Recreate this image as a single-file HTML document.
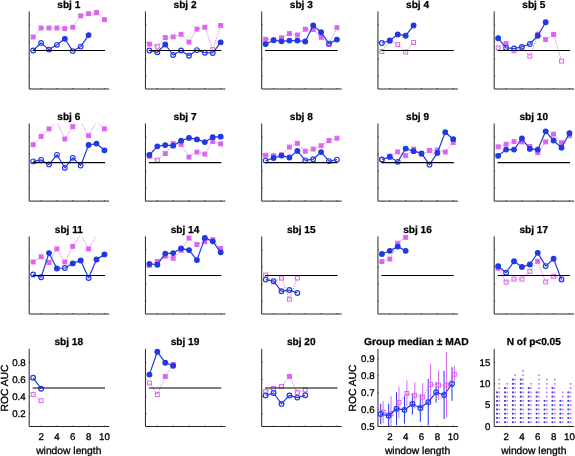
<!DOCTYPE html>
<html><head><meta charset="utf-8"><style>html,body{margin:0;padding:0;background:#fff;width:575px;height:456px;overflow:hidden}</style></head>
<body>
<svg width="575" height="456" viewBox="0 0 575 456" style="display:block;will-change:transform;text-rendering:geometricPrecision;font-family:'Liberation Sans',sans-serif">
<rect width="575" height="456" fill="#fff"/>
<defs>
<clipPath id="c0"><rect x="29.2" y="11.4" width="79.2" height="77.6"/></clipPath>
<clipPath id="c1"><rect x="145.45" y="11.4" width="79.2" height="77.6"/></clipPath>
<clipPath id="c2"><rect x="261.7" y="11.4" width="79.2" height="77.6"/></clipPath>
<clipPath id="c3"><rect x="377.95" y="11.4" width="79.2" height="77.6"/></clipPath>
<clipPath id="c4"><rect x="494.2" y="11.4" width="79.2" height="77.6"/></clipPath>
<clipPath id="c5"><rect x="29.2" y="123.5" width="79.2" height="77.6"/></clipPath>
<clipPath id="c6"><rect x="145.45" y="123.5" width="79.2" height="77.6"/></clipPath>
<clipPath id="c7"><rect x="261.7" y="123.5" width="79.2" height="77.6"/></clipPath>
<clipPath id="c8"><rect x="377.95" y="123.5" width="79.2" height="77.6"/></clipPath>
<clipPath id="c9"><rect x="494.2" y="123.5" width="79.2" height="77.6"/></clipPath>
<clipPath id="c10"><rect x="29.2" y="236.4" width="79.2" height="77.6"/></clipPath>
<clipPath id="c11"><rect x="145.45" y="236.4" width="79.2" height="77.6"/></clipPath>
<clipPath id="c12"><rect x="261.7" y="236.4" width="79.2" height="77.6"/></clipPath>
<clipPath id="c13"><rect x="377.95" y="236.4" width="79.2" height="77.6"/></clipPath>
<clipPath id="c14"><rect x="494.2" y="236.4" width="79.2" height="77.6"/></clipPath>
<clipPath id="c15"><rect x="29.2" y="348.9" width="79.2" height="77.6"/></clipPath>
<clipPath id="c16"><rect x="145.45" y="348.9" width="79.2" height="77.6"/></clipPath>
<clipPath id="c17"><rect x="261.7" y="348.9" width="79.2" height="77.6"/></clipPath>
<clipPath id="cg"><rect x="377.95" y="348.9" width="79.2" height="77.6"/></clipPath>
<clipPath id="cn"><rect x="494.2" y="348.9" width="79.2" height="77.6"/></clipPath>
</defs>
<path d="M29.2 11.4V89H109.2" fill="none" stroke="#262626" stroke-width="1"/>
<path d="M29.2 76.15h1M29.2 59.05h1M29.2 41.95h1M29.2 24.85h1M41.08 89v-1M56.92 89v-1M72.76 89v-1M88.6 89v-1M104.44 89v-1" fill="none" stroke="#262626" stroke-width="0.8"/>
<g clip-path="url(#c0)">
<path d="M33.16 37 L41.08 28 L49 28 L56.92 28 L64.84 28.6 L72.76 27.2 L80.68 15.9 L88.6 13.7 L96.52 12.5 L104.44 19.7" fill="none" stroke="#dc64f0" stroke-width="1.0" stroke-dasharray="1.1 1.3"/>
</g>
<rect x="31.21" y="35.05" width="3.9" height="3.9" fill="#dc64f0" stroke="#dc64f0" stroke-width="1.0"/>
<rect x="39.13" y="26.05" width="3.9" height="3.9" fill="#dc64f0" stroke="#dc64f0" stroke-width="1.0"/>
<rect x="47.05" y="26.05" width="3.9" height="3.9" fill="#dc64f0" stroke="#dc64f0" stroke-width="1.0"/>
<rect x="54.97" y="26.05" width="3.9" height="3.9" fill="#dc64f0" stroke="#dc64f0" stroke-width="1.0"/>
<rect x="62.89" y="26.65" width="3.9" height="3.9" fill="#dc64f0" stroke="#dc64f0" stroke-width="1.0"/>
<rect x="70.81" y="25.25" width="3.9" height="3.9" fill="#dc64f0" stroke="#dc64f0" stroke-width="1.0"/>
<rect x="78.73" y="13.95" width="3.9" height="3.9" fill="#dc64f0" stroke="#dc64f0" stroke-width="1.0"/>
<rect x="86.65" y="11.75" width="3.9" height="3.9" fill="#dc64f0" stroke="#dc64f0" stroke-width="1.0"/>
<rect x="94.57" y="10.55" width="3.9" height="3.9" fill="#dc64f0" stroke="#dc64f0" stroke-width="1.0"/>
<rect x="102.49" y="17.75" width="3.9" height="3.9" fill="#dc64f0" stroke="#dc64f0" stroke-width="1.0"/>
<g clip-path="url(#c0)">
<path d="M33.16 50.5 L41.08 42.9 L49 49.6 L56.92 44.8 L64.84 38.8 L72.76 51.1 L80.68 46.6 L88.6 35.1" fill="none" stroke="#2038e6" stroke-width="1.2" stroke-linejoin="round"/>
</g>
<circle cx="33.16" cy="50.5" r="2.35" fill="none" stroke="#2038e6" stroke-width="1.15"/>
<circle cx="41.08" cy="42.9" r="2.35" fill="none" stroke="#2038e6" stroke-width="1.15"/>
<circle cx="49" cy="49.6" r="2.35" fill="none" stroke="#2038e6" stroke-width="1.15"/>
<circle cx="56.92" cy="44.8" r="2.35" fill="none" stroke="#2038e6" stroke-width="1.15"/>
<circle cx="64.84" cy="38.8" r="2.35" fill="#2038e6" stroke="#2038e6" stroke-width="1.15"/>
<circle cx="72.76" cy="51.1" r="2.35" fill="none" stroke="#2038e6" stroke-width="1.15"/>
<circle cx="80.68" cy="46.6" r="2.35" fill="none" stroke="#2038e6" stroke-width="1.15"/>
<circle cx="88.6" cy="35.1" r="2.35" fill="#2038e6" stroke="#2038e6" stroke-width="1.15"/>
<path d="M33.16 50.5H104.44" stroke="#000" stroke-width="1.2" stroke-linecap="square"/>
<text x="68.8" y="7.6" font-size="10.1" text-anchor="middle" font-weight="bold" stroke="#000" stroke-width="0.25">sbj 1</text>
<path d="M145.45 11.4V89H225.45" fill="none" stroke="#262626" stroke-width="1"/>
<path d="M145.45 76.15h1M145.45 59.05h1M145.45 41.95h1M145.45 24.85h1M157.33 89v-1M173.17 89v-1M189.01 89v-1M204.85 89v-1M220.69 89v-1" fill="none" stroke="#262626" stroke-width="0.8"/>
<g clip-path="url(#c1)">
<path d="M149.41 44.1 L157.33 46.3 L165.25 37.6 L173.17 36.9 L181.09 34.3 L189.01 42.1 L196.93 29.1 L204.85 27.2 L212.77 49.6 L220.69 25.4" fill="none" stroke="#dc64f0" stroke-width="1.0" stroke-dasharray="1.1 1.3"/>
</g>
<rect x="147.46" y="42.15" width="3.9" height="3.9" fill="#dc64f0" stroke="#dc64f0" stroke-width="1.0"/>
<rect x="155.38" y="44.35" width="3.9" height="3.9" fill="none" stroke="#dc64f0" stroke-width="1.0"/>
<rect x="163.3" y="35.65" width="3.9" height="3.9" fill="#dc64f0" stroke="#dc64f0" stroke-width="1.0"/>
<rect x="171.22" y="34.95" width="3.9" height="3.9" fill="#dc64f0" stroke="#dc64f0" stroke-width="1.0"/>
<rect x="179.14" y="32.35" width="3.9" height="3.9" fill="#dc64f0" stroke="#dc64f0" stroke-width="1.0"/>
<rect x="187.06" y="40.15" width="3.9" height="3.9" fill="#dc64f0" stroke="#dc64f0" stroke-width="1.0"/>
<rect x="194.98" y="27.15" width="3.9" height="3.9" fill="#dc64f0" stroke="#dc64f0" stroke-width="1.0"/>
<rect x="202.9" y="25.25" width="3.9" height="3.9" fill="#dc64f0" stroke="#dc64f0" stroke-width="1.0"/>
<rect x="210.82" y="47.65" width="3.9" height="3.9" fill="none" stroke="#dc64f0" stroke-width="1.0"/>
<rect x="218.74" y="23.45" width="3.9" height="3.9" fill="#dc64f0" stroke="#dc64f0" stroke-width="1.0"/>
<g clip-path="url(#c1)">
<path d="M149.41 50.5 L157.33 52.3 L165.25 44.5 L173.17 55 L181.09 50.5 L189.01 55.7 L196.93 50.1 L204.85 52.7 L212.77 53 L220.69 42.3" fill="none" stroke="#2038e6" stroke-width="1.2" stroke-linejoin="round"/>
</g>
<circle cx="149.41" cy="50.5" r="2.35" fill="none" stroke="#2038e6" stroke-width="1.15"/>
<circle cx="157.33" cy="52.3" r="2.35" fill="none" stroke="#2038e6" stroke-width="1.15"/>
<circle cx="165.25" cy="44.5" r="2.35" fill="#2038e6" stroke="#2038e6" stroke-width="1.15"/>
<circle cx="173.17" cy="55" r="2.35" fill="none" stroke="#2038e6" stroke-width="1.15"/>
<circle cx="181.09" cy="50.5" r="2.35" fill="none" stroke="#2038e6" stroke-width="1.15"/>
<circle cx="189.01" cy="55.7" r="2.35" fill="none" stroke="#2038e6" stroke-width="1.15"/>
<circle cx="196.93" cy="50.1" r="2.35" fill="none" stroke="#2038e6" stroke-width="1.15"/>
<circle cx="204.85" cy="52.7" r="2.35" fill="none" stroke="#2038e6" stroke-width="1.15"/>
<circle cx="212.77" cy="53" r="2.35" fill="none" stroke="#2038e6" stroke-width="1.15"/>
<circle cx="220.69" cy="42.3" r="2.35" fill="#2038e6" stroke="#2038e6" stroke-width="1.15"/>
<path d="M149.41 50.5H220.69" stroke="#000" stroke-width="1.2" stroke-linecap="square"/>
<text x="185.05" y="7.6" font-size="10.1" text-anchor="middle" font-weight="bold" stroke="#000" stroke-width="0.25">sbj 2</text>
<path d="M261.7 11.4V89H341.7" fill="none" stroke="#262626" stroke-width="1"/>
<path d="M261.7 76.15h1M261.7 59.05h1M261.7 41.95h1M261.7 24.85h1M273.58 89v-1M289.42 89v-1M305.26 89v-1M321.1 89v-1M336.94 89v-1" fill="none" stroke="#262626" stroke-width="0.8"/>
<g clip-path="url(#c2)">
<path d="M265.66 39.2 L273.58 40 L281.5 37.8 L289.42 33.6 L297.34 35 L305.26 29.2 L313.18 29.6 L321.1 37.3 L329.02 44.5 L336.94 27.7" fill="none" stroke="#dc64f0" stroke-width="1.0" stroke-dasharray="1.1 1.3"/>
</g>
<rect x="263.71" y="37.25" width="3.9" height="3.9" fill="#dc64f0" stroke="#dc64f0" stroke-width="1.0"/>
<rect x="271.63" y="38.05" width="3.9" height="3.9" fill="#dc64f0" stroke="#dc64f0" stroke-width="1.0"/>
<rect x="279.55" y="35.85" width="3.9" height="3.9" fill="#dc64f0" stroke="#dc64f0" stroke-width="1.0"/>
<rect x="287.47" y="31.65" width="3.9" height="3.9" fill="#dc64f0" stroke="#dc64f0" stroke-width="1.0"/>
<rect x="295.39" y="33.05" width="3.9" height="3.9" fill="#dc64f0" stroke="#dc64f0" stroke-width="1.0"/>
<rect x="303.31" y="27.25" width="3.9" height="3.9" fill="#dc64f0" stroke="#dc64f0" stroke-width="1.0"/>
<rect x="311.23" y="27.65" width="3.9" height="3.9" fill="#dc64f0" stroke="#dc64f0" stroke-width="1.0"/>
<rect x="319.15" y="35.35" width="3.9" height="3.9" fill="#dc64f0" stroke="#dc64f0" stroke-width="1.0"/>
<rect x="327.07" y="42.55" width="3.9" height="3.9" fill="none" stroke="#dc64f0" stroke-width="1.0"/>
<rect x="334.99" y="25.75" width="3.9" height="3.9" fill="#dc64f0" stroke="#dc64f0" stroke-width="1.0"/>
<g clip-path="url(#c2)">
<path d="M265.66 44.05 L273.58 40.2 L281.5 41.3 L289.42 40.6 L297.34 40.6 L305.26 41.5 L313.18 25.4 L321.1 32.3 L329.02 43.6 L336.94 39.6" fill="none" stroke="#2038e6" stroke-width="1.2" stroke-linejoin="round"/>
</g>
<circle cx="265.66" cy="44.05" r="2.35" fill="#2038e6" stroke="#2038e6" stroke-width="1.15"/>
<circle cx="273.58" cy="40.2" r="2.35" fill="#2038e6" stroke="#2038e6" stroke-width="1.15"/>
<circle cx="281.5" cy="41.3" r="2.35" fill="#2038e6" stroke="#2038e6" stroke-width="1.15"/>
<circle cx="289.42" cy="40.6" r="2.35" fill="#2038e6" stroke="#2038e6" stroke-width="1.15"/>
<circle cx="297.34" cy="40.6" r="2.35" fill="#2038e6" stroke="#2038e6" stroke-width="1.15"/>
<circle cx="305.26" cy="41.5" r="2.35" fill="#2038e6" stroke="#2038e6" stroke-width="1.15"/>
<circle cx="313.18" cy="25.4" r="2.35" fill="#2038e6" stroke="#2038e6" stroke-width="1.15"/>
<circle cx="321.1" cy="32.3" r="2.35" fill="#2038e6" stroke="#2038e6" stroke-width="1.15"/>
<circle cx="329.02" cy="43.6" r="2.35" fill="none" stroke="#2038e6" stroke-width="1.15"/>
<circle cx="336.94" cy="39.6" r="2.35" fill="#2038e6" stroke="#2038e6" stroke-width="1.15"/>
<path d="M265.66 50.5H336.94" stroke="#000" stroke-width="1.2" stroke-linecap="square"/>
<text x="301.3" y="7.6" font-size="10.1" text-anchor="middle" font-weight="bold" stroke="#000" stroke-width="0.25">sbj 3</text>
<path d="M377.95 11.4V89H457.95" fill="none" stroke="#262626" stroke-width="1"/>
<path d="M377.95 76.15h1M377.95 59.05h1M377.95 41.95h1M377.95 24.85h1M389.83 89v-1M405.67 89v-1M421.51 89v-1M437.35 89v-1M453.19 89v-1" fill="none" stroke="#262626" stroke-width="0.8"/>
<g clip-path="url(#c3)">
<path d="M381.91 51.5 L389.83 41.1 L397.75 44.6 L405.67 52 L413.59 42.5" fill="none" stroke="#dc64f0" stroke-width="1.0" stroke-dasharray="1.1 1.3"/>
</g>
<rect x="379.96" y="49.55" width="3.9" height="3.9" fill="none" stroke="#dc64f0" stroke-width="1.0"/>
<rect x="387.88" y="39.15" width="3.9" height="3.9" fill="none" stroke="#dc64f0" stroke-width="1.0"/>
<rect x="395.8" y="42.65" width="3.9" height="3.9" fill="none" stroke="#dc64f0" stroke-width="1.0"/>
<rect x="403.72" y="50.05" width="3.9" height="3.9" fill="none" stroke="#dc64f0" stroke-width="1.0"/>
<rect x="411.64" y="40.55" width="3.9" height="3.9" fill="none" stroke="#dc64f0" stroke-width="1.0"/>
<g clip-path="url(#c3)">
<path d="M381.91 43 L389.83 40.5 L397.75 34.4 L405.67 35.7 L413.59 25.4" fill="none" stroke="#2038e6" stroke-width="1.2" stroke-linejoin="round"/>
</g>
<circle cx="381.91" cy="43" r="2.35" fill="none" stroke="#2038e6" stroke-width="1.15"/>
<circle cx="389.83" cy="40.5" r="2.35" fill="#2038e6" stroke="#2038e6" stroke-width="1.15"/>
<circle cx="397.75" cy="34.4" r="2.35" fill="#2038e6" stroke="#2038e6" stroke-width="1.15"/>
<circle cx="405.67" cy="35.7" r="2.35" fill="#2038e6" stroke="#2038e6" stroke-width="1.15"/>
<circle cx="413.59" cy="25.4" r="2.35" fill="#2038e6" stroke="#2038e6" stroke-width="1.15"/>
<path d="M381.91 50.5H453.19" stroke="#000" stroke-width="1.2" stroke-linecap="square"/>
<text x="417.55" y="7.6" font-size="10.1" text-anchor="middle" font-weight="bold" stroke="#000" stroke-width="0.25">sbj 4</text>
<path d="M494.2 11.4V89H574.2" fill="none" stroke="#262626" stroke-width="1"/>
<path d="M494.2 76.15h1M494.2 59.05h1M494.2 41.95h1M494.2 24.85h1M506.08 89v-1M521.92 89v-1M537.76 89v-1M553.6 89v-1M569.44 89v-1" fill="none" stroke="#262626" stroke-width="0.8"/>
<g clip-path="url(#c4)">
<path d="M498.16 47.9 L506.08 43.5 L514 50.8 L521.92 47.7 L529.84 56.2 L537.76 34.1 L545.68 39.6 L553.6 34.5 L561.52 61.1" fill="none" stroke="#dc64f0" stroke-width="1.0" stroke-dasharray="1.1 1.3"/>
</g>
<rect x="496.21" y="45.95" width="3.9" height="3.9" fill="none" stroke="#dc64f0" stroke-width="1.0"/>
<rect x="504.13" y="41.55" width="3.9" height="3.9" fill="#dc64f0" stroke="#dc64f0" stroke-width="1.0"/>
<rect x="512.05" y="48.85" width="3.9" height="3.9" fill="none" stroke="#dc64f0" stroke-width="1.0"/>
<rect x="519.97" y="45.75" width="3.9" height="3.9" fill="none" stroke="#dc64f0" stroke-width="1.0"/>
<rect x="527.89" y="54.25" width="3.9" height="3.9" fill="none" stroke="#dc64f0" stroke-width="1.0"/>
<rect x="535.81" y="32.15" width="3.9" height="3.9" fill="#dc64f0" stroke="#dc64f0" stroke-width="1.0"/>
<rect x="543.73" y="37.65" width="3.9" height="3.9" fill="#dc64f0" stroke="#dc64f0" stroke-width="1.0"/>
<rect x="551.65" y="32.55" width="3.9" height="3.9" fill="#dc64f0" stroke="#dc64f0" stroke-width="1.0"/>
<rect x="559.57" y="59.15" width="3.9" height="3.9" fill="none" stroke="#dc64f0" stroke-width="1.0"/>
<g clip-path="url(#c4)">
<path d="M498.16 38.2 L506.08 47.9 L514 48.5 L521.92 46.8 L529.84 44 L537.76 35.7 L545.68 22.2" fill="none" stroke="#2038e6" stroke-width="1.2" stroke-linejoin="round"/>
</g>
<circle cx="498.16" cy="38.2" r="2.35" fill="#2038e6" stroke="#2038e6" stroke-width="1.15"/>
<circle cx="506.08" cy="47.9" r="2.35" fill="none" stroke="#2038e6" stroke-width="1.15"/>
<circle cx="514" cy="48.5" r="2.35" fill="none" stroke="#2038e6" stroke-width="1.15"/>
<circle cx="521.92" cy="46.8" r="2.35" fill="none" stroke="#2038e6" stroke-width="1.15"/>
<circle cx="529.84" cy="44" r="2.35" fill="none" stroke="#2038e6" stroke-width="1.15"/>
<circle cx="537.76" cy="35.7" r="2.35" fill="#2038e6" stroke="#2038e6" stroke-width="1.15"/>
<circle cx="545.68" cy="22.2" r="2.35" fill="#2038e6" stroke="#2038e6" stroke-width="1.15"/>
<path d="M498.16 50.5H569.44" stroke="#000" stroke-width="1.2" stroke-linecap="square"/>
<text x="533.8" y="7.6" font-size="10.1" text-anchor="middle" font-weight="bold" stroke="#000" stroke-width="0.25">sbj 5</text>
<path d="M29.2 123.5V201.1H109.2" fill="none" stroke="#262626" stroke-width="1"/>
<path d="M29.2 188.25h1M29.2 171.15h1M29.2 154.05h1M29.2 136.95h1M41.08 201.1v-1M56.92 201.1v-1M72.76 201.1v-1M88.6 201.1v-1M104.44 201.1v-1" fill="none" stroke="#262626" stroke-width="0.8"/>
<g clip-path="url(#c5)">
<path d="M33.16 144.7 L41.08 136.4 L49 128.9 L56.92 121.6 L64.84 139 L72.76 126.7 L80.68 121.6 L88.6 135.7 L96.52 121.6 L104.44 128.9" fill="none" stroke="#dc64f0" stroke-width="1.0" stroke-dasharray="1.1 1.3"/>
</g>
<rect x="31.21" y="142.75" width="3.9" height="3.9" fill="#dc64f0" stroke="#dc64f0" stroke-width="1.0"/>
<rect x="39.13" y="134.45" width="3.9" height="3.9" fill="#dc64f0" stroke="#dc64f0" stroke-width="1.0"/>
<rect x="47.05" y="126.95" width="3.9" height="3.9" fill="#dc64f0" stroke="#dc64f0" stroke-width="1.0"/>
<rect x="62.89" y="137.05" width="3.9" height="3.9" fill="#dc64f0" stroke="#dc64f0" stroke-width="1.0"/>
<rect x="70.81" y="124.75" width="3.9" height="3.9" fill="#dc64f0" stroke="#dc64f0" stroke-width="1.0"/>
<rect x="86.65" y="133.75" width="3.9" height="3.9" fill="#dc64f0" stroke="#dc64f0" stroke-width="1.0"/>
<rect x="102.49" y="126.95" width="3.9" height="3.9" fill="#dc64f0" stroke="#dc64f0" stroke-width="1.0"/>
<g clip-path="url(#c5)">
<path d="M33.16 161.4 L41.08 159.9 L49 164.4 L56.92 154.8 L64.84 167.8 L72.76 157.8 L80.68 165.6 L88.6 145 L96.52 143.6 L104.44 150.3" fill="none" stroke="#2038e6" stroke-width="1.2" stroke-linejoin="round"/>
</g>
<circle cx="33.16" cy="161.4" r="2.35" fill="none" stroke="#2038e6" stroke-width="1.15"/>
<circle cx="41.08" cy="159.9" r="2.35" fill="none" stroke="#2038e6" stroke-width="1.15"/>
<circle cx="49" cy="164.4" r="2.35" fill="none" stroke="#2038e6" stroke-width="1.15"/>
<circle cx="56.92" cy="154.8" r="2.35" fill="none" stroke="#2038e6" stroke-width="1.15"/>
<circle cx="64.84" cy="167.8" r="2.35" fill="none" stroke="#2038e6" stroke-width="1.15"/>
<circle cx="72.76" cy="157.8" r="2.35" fill="none" stroke="#2038e6" stroke-width="1.15"/>
<circle cx="80.68" cy="165.6" r="2.35" fill="none" stroke="#2038e6" stroke-width="1.15"/>
<circle cx="88.6" cy="145" r="2.35" fill="#2038e6" stroke="#2038e6" stroke-width="1.15"/>
<circle cx="96.52" cy="143.6" r="2.35" fill="#2038e6" stroke="#2038e6" stroke-width="1.15"/>
<circle cx="104.44" cy="150.3" r="2.35" fill="#2038e6" stroke="#2038e6" stroke-width="1.15"/>
<path d="M33.16 162.6H104.44" stroke="#000" stroke-width="1.2" stroke-linecap="square"/>
<text x="68.8" y="119.7" font-size="10.1" text-anchor="middle" font-weight="bold" stroke="#000" stroke-width="0.25">sbj 6</text>
<path d="M145.45 123.5V201.1H225.45" fill="none" stroke="#262626" stroke-width="1"/>
<path d="M145.45 188.25h1M145.45 171.15h1M145.45 154.05h1M145.45 136.95h1M157.33 201.1v-1M173.17 201.1v-1M189.01 201.1v-1M204.85 201.1v-1M220.69 201.1v-1" fill="none" stroke="#262626" stroke-width="0.8"/>
<g clip-path="url(#c6)">
<path d="M149.41 156.3 L157.33 160.1 L165.25 153.6 L173.17 143.6 L181.09 144.4 L189.01 157.1 L196.93 152.1 L204.85 154.1 L212.77 141.4 L220.69 143.9" fill="none" stroke="#dc64f0" stroke-width="1.0" stroke-dasharray="1.1 1.3"/>
</g>
<rect x="147.46" y="154.35" width="3.9" height="3.9" fill="#dc64f0" stroke="#dc64f0" stroke-width="1.0"/>
<rect x="155.38" y="158.15" width="3.9" height="3.9" fill="none" stroke="#dc64f0" stroke-width="1.0"/>
<rect x="163.3" y="151.65" width="3.9" height="3.9" fill="#dc64f0" stroke="#dc64f0" stroke-width="1.0"/>
<rect x="171.22" y="141.65" width="3.9" height="3.9" fill="#dc64f0" stroke="#dc64f0" stroke-width="1.0"/>
<rect x="179.14" y="142.45" width="3.9" height="3.9" fill="#dc64f0" stroke="#dc64f0" stroke-width="1.0"/>
<rect x="187.06" y="155.15" width="3.9" height="3.9" fill="#dc64f0" stroke="#dc64f0" stroke-width="1.0"/>
<rect x="194.98" y="150.15" width="3.9" height="3.9" fill="#dc64f0" stroke="#dc64f0" stroke-width="1.0"/>
<rect x="202.9" y="152.15" width="3.9" height="3.9" fill="#dc64f0" stroke="#dc64f0" stroke-width="1.0"/>
<rect x="210.82" y="139.45" width="3.9" height="3.9" fill="#dc64f0" stroke="#dc64f0" stroke-width="1.0"/>
<rect x="218.74" y="141.95" width="3.9" height="3.9" fill="#dc64f0" stroke="#dc64f0" stroke-width="1.0"/>
<g clip-path="url(#c6)">
<path d="M149.41 155 L157.33 146.3 L165.25 145.1 L173.17 145.7 L181.09 140.7 L189.01 137.9 L196.93 139.4 L204.85 142.1 L212.77 137.2 L220.69 136.7" fill="none" stroke="#2038e6" stroke-width="1.2" stroke-linejoin="round"/>
</g>
<circle cx="149.41" cy="155" r="2.35" fill="#2038e6" stroke="#2038e6" stroke-width="1.15"/>
<circle cx="157.33" cy="146.3" r="2.35" fill="#2038e6" stroke="#2038e6" stroke-width="1.15"/>
<circle cx="165.25" cy="145.1" r="2.35" fill="#2038e6" stroke="#2038e6" stroke-width="1.15"/>
<circle cx="173.17" cy="145.7" r="2.35" fill="#2038e6" stroke="#2038e6" stroke-width="1.15"/>
<circle cx="181.09" cy="140.7" r="2.35" fill="#2038e6" stroke="#2038e6" stroke-width="1.15"/>
<circle cx="189.01" cy="137.9" r="2.35" fill="#2038e6" stroke="#2038e6" stroke-width="1.15"/>
<circle cx="196.93" cy="139.4" r="2.35" fill="#2038e6" stroke="#2038e6" stroke-width="1.15"/>
<circle cx="204.85" cy="142.1" r="2.35" fill="#2038e6" stroke="#2038e6" stroke-width="1.15"/>
<circle cx="212.77" cy="137.2" r="2.35" fill="#2038e6" stroke="#2038e6" stroke-width="1.15"/>
<circle cx="220.69" cy="136.7" r="2.35" fill="#2038e6" stroke="#2038e6" stroke-width="1.15"/>
<path d="M149.41 162.6H220.69" stroke="#000" stroke-width="1.2" stroke-linecap="square"/>
<text x="185.05" y="119.7" font-size="10.1" text-anchor="middle" font-weight="bold" stroke="#000" stroke-width="0.25">sbj 7</text>
<path d="M261.7 123.5V201.1H341.7" fill="none" stroke="#262626" stroke-width="1"/>
<path d="M261.7 188.25h1M261.7 171.15h1M261.7 154.05h1M261.7 136.95h1M273.58 201.1v-1M289.42 201.1v-1M305.26 201.1v-1M321.1 201.1v-1M336.94 201.1v-1" fill="none" stroke="#262626" stroke-width="0.8"/>
<g clip-path="url(#c7)">
<path d="M265.66 155.2 L273.58 155.7 L281.5 154.8 L289.42 147.1 L297.34 143.3 L305.26 151.2 L313.18 149.1 L321.1 145.7 L329.02 140.5 L336.94 138.2" fill="none" stroke="#dc64f0" stroke-width="1.0" stroke-dasharray="1.1 1.3"/>
</g>
<rect x="263.71" y="153.25" width="3.9" height="3.9" fill="#dc64f0" stroke="#dc64f0" stroke-width="1.0"/>
<rect x="271.63" y="153.75" width="3.9" height="3.9" fill="#dc64f0" stroke="#dc64f0" stroke-width="1.0"/>
<rect x="279.55" y="152.85" width="3.9" height="3.9" fill="#dc64f0" stroke="#dc64f0" stroke-width="1.0"/>
<rect x="287.47" y="145.15" width="3.9" height="3.9" fill="#dc64f0" stroke="#dc64f0" stroke-width="1.0"/>
<rect x="295.39" y="141.35" width="3.9" height="3.9" fill="#dc64f0" stroke="#dc64f0" stroke-width="1.0"/>
<rect x="303.31" y="149.25" width="3.9" height="3.9" fill="#dc64f0" stroke="#dc64f0" stroke-width="1.0"/>
<rect x="311.23" y="147.15" width="3.9" height="3.9" fill="#dc64f0" stroke="#dc64f0" stroke-width="1.0"/>
<rect x="319.15" y="143.75" width="3.9" height="3.9" fill="#dc64f0" stroke="#dc64f0" stroke-width="1.0"/>
<rect x="327.07" y="138.55" width="3.9" height="3.9" fill="#dc64f0" stroke="#dc64f0" stroke-width="1.0"/>
<rect x="334.99" y="136.25" width="3.9" height="3.9" fill="#dc64f0" stroke="#dc64f0" stroke-width="1.0"/>
<g clip-path="url(#c7)">
<path d="M265.66 160.6 L273.58 158 L281.5 155.6 L289.42 157.5 L297.34 150.9 L305.26 160.4 L313.18 159.2 L321.1 152.1 L329.02 161.1 L336.94 159.6" fill="none" stroke="#2038e6" stroke-width="1.2" stroke-linejoin="round"/>
</g>
<circle cx="265.66" cy="160.6" r="2.35" fill="none" stroke="#2038e6" stroke-width="1.15"/>
<circle cx="273.58" cy="158" r="2.35" fill="#2038e6" stroke="#2038e6" stroke-width="1.15"/>
<circle cx="281.5" cy="155.6" r="2.35" fill="#2038e6" stroke="#2038e6" stroke-width="1.15"/>
<circle cx="289.42" cy="157.5" r="2.35" fill="#2038e6" stroke="#2038e6" stroke-width="1.15"/>
<circle cx="297.34" cy="150.9" r="2.35" fill="#2038e6" stroke="#2038e6" stroke-width="1.15"/>
<circle cx="305.26" cy="160.4" r="2.35" fill="none" stroke="#2038e6" stroke-width="1.15"/>
<circle cx="313.18" cy="159.2" r="2.35" fill="none" stroke="#2038e6" stroke-width="1.15"/>
<circle cx="321.1" cy="152.1" r="2.35" fill="#2038e6" stroke="#2038e6" stroke-width="1.15"/>
<circle cx="329.02" cy="161.1" r="2.35" fill="none" stroke="#2038e6" stroke-width="1.15"/>
<circle cx="336.94" cy="159.6" r="2.35" fill="none" stroke="#2038e6" stroke-width="1.15"/>
<path d="M265.66 162.6H336.94" stroke="#000" stroke-width="1.2" stroke-linecap="square"/>
<text x="301.3" y="119.7" font-size="10.1" text-anchor="middle" font-weight="bold" stroke="#000" stroke-width="0.25">sbj 8</text>
<path d="M377.95 123.5V201.1H457.95" fill="none" stroke="#262626" stroke-width="1"/>
<path d="M377.95 188.25h1M377.95 171.15h1M377.95 154.05h1M377.95 136.95h1M389.83 201.1v-1M405.67 201.1v-1M421.51 201.1v-1M437.35 201.1v-1M453.19 201.1v-1" fill="none" stroke="#262626" stroke-width="0.8"/>
<g clip-path="url(#c8)">
<path d="M381.91 159.6 L389.83 156 L397.75 151.9 L405.67 155.7 L413.59 149.1 L421.51 154.3 L429.43 150.5 L437.35 150.1 L445.27 152 L453.19 142.5" fill="none" stroke="#dc64f0" stroke-width="1.0" stroke-dasharray="1.1 1.3"/>
</g>
<rect x="379.96" y="157.65" width="3.9" height="3.9" fill="none" stroke="#dc64f0" stroke-width="1.0"/>
<rect x="387.88" y="154.05" width="3.9" height="3.9" fill="#dc64f0" stroke="#dc64f0" stroke-width="1.0"/>
<rect x="395.8" y="149.95" width="3.9" height="3.9" fill="#dc64f0" stroke="#dc64f0" stroke-width="1.0"/>
<rect x="403.72" y="153.75" width="3.9" height="3.9" fill="#dc64f0" stroke="#dc64f0" stroke-width="1.0"/>
<rect x="411.64" y="147.15" width="3.9" height="3.9" fill="#dc64f0" stroke="#dc64f0" stroke-width="1.0"/>
<rect x="419.56" y="152.35" width="3.9" height="3.9" fill="#dc64f0" stroke="#dc64f0" stroke-width="1.0"/>
<rect x="427.48" y="148.55" width="3.9" height="3.9" fill="#dc64f0" stroke="#dc64f0" stroke-width="1.0"/>
<rect x="435.4" y="148.15" width="3.9" height="3.9" fill="#dc64f0" stroke="#dc64f0" stroke-width="1.0"/>
<rect x="443.32" y="150.05" width="3.9" height="3.9" fill="#dc64f0" stroke="#dc64f0" stroke-width="1.0"/>
<rect x="451.24" y="140.55" width="3.9" height="3.9" fill="#dc64f0" stroke="#dc64f0" stroke-width="1.0"/>
<g clip-path="url(#c8)">
<path d="M381.91 159.5 L389.83 156.9 L397.75 161.8 L405.67 148.6 L413.59 151.2 L421.51 153.4 L429.43 164.7 L437.35 152.9 L445.27 132.2 L453.19 139.2" fill="none" stroke="#2038e6" stroke-width="1.2" stroke-linejoin="round"/>
</g>
<circle cx="381.91" cy="159.5" r="2.35" fill="none" stroke="#2038e6" stroke-width="1.15"/>
<circle cx="389.83" cy="156.9" r="2.35" fill="#2038e6" stroke="#2038e6" stroke-width="1.15"/>
<circle cx="397.75" cy="161.8" r="2.35" fill="none" stroke="#2038e6" stroke-width="1.15"/>
<circle cx="405.67" cy="148.6" r="2.35" fill="#2038e6" stroke="#2038e6" stroke-width="1.15"/>
<circle cx="413.59" cy="151.2" r="2.35" fill="#2038e6" stroke="#2038e6" stroke-width="1.15"/>
<circle cx="421.51" cy="153.4" r="2.35" fill="#2038e6" stroke="#2038e6" stroke-width="1.15"/>
<circle cx="429.43" cy="164.7" r="2.35" fill="none" stroke="#2038e6" stroke-width="1.15"/>
<circle cx="437.35" cy="152.9" r="2.35" fill="#2038e6" stroke="#2038e6" stroke-width="1.15"/>
<circle cx="445.27" cy="132.2" r="2.35" fill="#2038e6" stroke="#2038e6" stroke-width="1.15"/>
<circle cx="453.19" cy="139.2" r="2.35" fill="#2038e6" stroke="#2038e6" stroke-width="1.15"/>
<path d="M381.91 162.6H453.19" stroke="#000" stroke-width="1.2" stroke-linecap="square"/>
<text x="417.55" y="119.7" font-size="10.1" text-anchor="middle" font-weight="bold" stroke="#000" stroke-width="0.25">sbj 9</text>
<path d="M494.2 123.5V201.1H574.2" fill="none" stroke="#262626" stroke-width="1"/>
<path d="M494.2 188.25h1M494.2 171.15h1M494.2 154.05h1M494.2 136.95h1M506.08 201.1v-1M521.92 201.1v-1M537.76 201.1v-1M553.6 201.1v-1M569.44 201.1v-1" fill="none" stroke="#262626" stroke-width="0.8"/>
<g clip-path="url(#c9)">
<path d="M498.16 146.8 L506.08 144.2 L514 141.6 L521.92 142 L529.84 146.4 L537.76 152.7 L545.68 141.9 L553.6 134.1 L561.52 142.8 L569.44 135.7" fill="none" stroke="#dc64f0" stroke-width="1.0" stroke-dasharray="1.1 1.3"/>
</g>
<rect x="496.21" y="144.85" width="3.9" height="3.9" fill="#dc64f0" stroke="#dc64f0" stroke-width="1.0"/>
<rect x="504.13" y="142.25" width="3.9" height="3.9" fill="#dc64f0" stroke="#dc64f0" stroke-width="1.0"/>
<rect x="512.05" y="139.65" width="3.9" height="3.9" fill="#dc64f0" stroke="#dc64f0" stroke-width="1.0"/>
<rect x="519.97" y="140.05" width="3.9" height="3.9" fill="#dc64f0" stroke="#dc64f0" stroke-width="1.0"/>
<rect x="527.89" y="144.45" width="3.9" height="3.9" fill="#dc64f0" stroke="#dc64f0" stroke-width="1.0"/>
<rect x="535.81" y="150.75" width="3.9" height="3.9" fill="#dc64f0" stroke="#dc64f0" stroke-width="1.0"/>
<rect x="543.73" y="139.95" width="3.9" height="3.9" fill="#dc64f0" stroke="#dc64f0" stroke-width="1.0"/>
<rect x="551.65" y="132.15" width="3.9" height="3.9" fill="#dc64f0" stroke="#dc64f0" stroke-width="1.0"/>
<rect x="559.57" y="140.85" width="3.9" height="3.9" fill="#dc64f0" stroke="#dc64f0" stroke-width="1.0"/>
<rect x="567.49" y="133.75" width="3.9" height="3.9" fill="#dc64f0" stroke="#dc64f0" stroke-width="1.0"/>
<g clip-path="url(#c9)">
<path d="M498.16 155.8 L506.08 149.6 L514 149.6 L521.92 138.5 L529.84 148.9 L537.76 149.6 L545.68 131.3 L553.6 140.5 L561.52 147.7 L569.44 133.2" fill="none" stroke="#2038e6" stroke-width="1.2" stroke-linejoin="round"/>
</g>
<circle cx="498.16" cy="155.8" r="2.35" fill="#2038e6" stroke="#2038e6" stroke-width="1.15"/>
<circle cx="506.08" cy="149.6" r="2.35" fill="#2038e6" stroke="#2038e6" stroke-width="1.15"/>
<circle cx="514" cy="149.6" r="2.35" fill="#2038e6" stroke="#2038e6" stroke-width="1.15"/>
<circle cx="521.92" cy="138.5" r="2.35" fill="#2038e6" stroke="#2038e6" stroke-width="1.15"/>
<circle cx="529.84" cy="148.9" r="2.35" fill="#2038e6" stroke="#2038e6" stroke-width="1.15"/>
<circle cx="537.76" cy="149.6" r="2.35" fill="#2038e6" stroke="#2038e6" stroke-width="1.15"/>
<circle cx="545.68" cy="131.3" r="2.35" fill="#2038e6" stroke="#2038e6" stroke-width="1.15"/>
<circle cx="553.6" cy="140.5" r="2.35" fill="#2038e6" stroke="#2038e6" stroke-width="1.15"/>
<circle cx="561.52" cy="147.7" r="2.35" fill="#2038e6" stroke="#2038e6" stroke-width="1.15"/>
<circle cx="569.44" cy="133.2" r="2.35" fill="#2038e6" stroke="#2038e6" stroke-width="1.15"/>
<path d="M498.16 162.6H569.44" stroke="#000" stroke-width="1.2" stroke-linecap="square"/>
<text x="533.8" y="119.7" font-size="10.1" text-anchor="middle" font-weight="bold" stroke="#000" stroke-width="0.25">sbj 10</text>
<path d="M29.2 236.4V314H109.2" fill="none" stroke="#262626" stroke-width="1"/>
<path d="M29.2 301.15h1M29.2 284.05h1M29.2 266.95h1M29.2 249.85h1M41.08 314v-1M56.92 314v-1M72.76 314v-1M88.6 314v-1M104.44 314v-1" fill="none" stroke="#262626" stroke-width="0.8"/>
<g clip-path="url(#c10)">
<path d="M33.16 262 L41.08 256.8 L49 262.5 L56.92 248.9 L64.84 262 L72.76 246.3 L80.68 234.5 L88.6 249 L96.52 234.5" fill="none" stroke="#dc64f0" stroke-width="1.0" stroke-dasharray="1.1 1.3"/>
</g>
<rect x="31.21" y="260.05" width="3.9" height="3.9" fill="#dc64f0" stroke="#dc64f0" stroke-width="1.0"/>
<rect x="39.13" y="254.85" width="3.9" height="3.9" fill="#dc64f0" stroke="#dc64f0" stroke-width="1.0"/>
<rect x="47.05" y="260.55" width="3.9" height="3.9" fill="#dc64f0" stroke="#dc64f0" stroke-width="1.0"/>
<rect x="54.97" y="246.95" width="3.9" height="3.9" fill="#dc64f0" stroke="#dc64f0" stroke-width="1.0"/>
<rect x="62.89" y="260.05" width="3.9" height="3.9" fill="#dc64f0" stroke="#dc64f0" stroke-width="1.0"/>
<rect x="70.81" y="244.35" width="3.9" height="3.9" fill="#dc64f0" stroke="#dc64f0" stroke-width="1.0"/>
<rect x="86.65" y="247.05" width="3.9" height="3.9" fill="#dc64f0" stroke="#dc64f0" stroke-width="1.0"/>
<g clip-path="url(#c10)">
<path d="M33.16 274.5 L41.08 277.3 L49 253.1 L56.92 268.5 L64.84 268 L72.76 263.4 L80.68 260.5 L88.6 278 L96.52 259.5 L104.44 254.4" fill="none" stroke="#2038e6" stroke-width="1.2" stroke-linejoin="round"/>
</g>
<circle cx="33.16" cy="274.5" r="2.35" fill="none" stroke="#2038e6" stroke-width="1.15"/>
<circle cx="41.08" cy="277.3" r="2.35" fill="none" stroke="#2038e6" stroke-width="1.15"/>
<circle cx="49" cy="253.1" r="2.35" fill="#2038e6" stroke="#2038e6" stroke-width="1.15"/>
<circle cx="56.92" cy="268.5" r="2.35" fill="#2038e6" stroke="#2038e6" stroke-width="1.15"/>
<circle cx="64.84" cy="268" r="2.35" fill="none" stroke="#2038e6" stroke-width="1.15"/>
<circle cx="72.76" cy="263.4" r="2.35" fill="#2038e6" stroke="#2038e6" stroke-width="1.15"/>
<circle cx="80.68" cy="260.5" r="2.35" fill="#2038e6" stroke="#2038e6" stroke-width="1.15"/>
<circle cx="88.6" cy="278" r="2.35" fill="none" stroke="#2038e6" stroke-width="1.15"/>
<circle cx="96.52" cy="259.5" r="2.35" fill="#2038e6" stroke="#2038e6" stroke-width="1.15"/>
<circle cx="104.44" cy="254.4" r="2.35" fill="#2038e6" stroke="#2038e6" stroke-width="1.15"/>
<path d="M33.16 275.5H104.44" stroke="#000" stroke-width="1.2" stroke-linecap="square"/>
<text x="68.8" y="232.6" font-size="10.1" text-anchor="middle" font-weight="bold" stroke="#000" stroke-width="0.25">sbj 11</text>
<path d="M145.45 236.4V314H225.45" fill="none" stroke="#262626" stroke-width="1"/>
<path d="M145.45 301.15h1M145.45 284.05h1M145.45 266.95h1M145.45 249.85h1M157.33 314v-1M173.17 314v-1M189.01 314v-1M204.85 314v-1M220.69 314v-1" fill="none" stroke="#262626" stroke-width="0.8"/>
<g clip-path="url(#c11)">
<path d="M149.41 265.3 L157.33 261.4 L165.25 256.2 L173.17 258.3 L181.09 250.3 L189.01 238.1 L196.93 244.5 L204.85 241.7 L212.77 239.7 L220.69 248.5" fill="none" stroke="#dc64f0" stroke-width="1.0" stroke-dasharray="1.1 1.3"/>
</g>
<rect x="147.46" y="263.35" width="3.9" height="3.9" fill="#dc64f0" stroke="#dc64f0" stroke-width="1.0"/>
<rect x="155.38" y="259.45" width="3.9" height="3.9" fill="#dc64f0" stroke="#dc64f0" stroke-width="1.0"/>
<rect x="163.3" y="254.25" width="3.9" height="3.9" fill="#dc64f0" stroke="#dc64f0" stroke-width="1.0"/>
<rect x="171.22" y="256.35" width="3.9" height="3.9" fill="#dc64f0" stroke="#dc64f0" stroke-width="1.0"/>
<rect x="179.14" y="248.35" width="3.9" height="3.9" fill="#dc64f0" stroke="#dc64f0" stroke-width="1.0"/>
<rect x="187.06" y="236.15" width="3.9" height="3.9" fill="#dc64f0" stroke="#dc64f0" stroke-width="1.0"/>
<rect x="194.98" y="242.55" width="3.9" height="3.9" fill="#dc64f0" stroke="#dc64f0" stroke-width="1.0"/>
<rect x="202.9" y="239.75" width="3.9" height="3.9" fill="#dc64f0" stroke="#dc64f0" stroke-width="1.0"/>
<rect x="210.82" y="237.75" width="3.9" height="3.9" fill="#dc64f0" stroke="#dc64f0" stroke-width="1.0"/>
<rect x="218.74" y="246.55" width="3.9" height="3.9" fill="#dc64f0" stroke="#dc64f0" stroke-width="1.0"/>
<g clip-path="url(#c11)">
<path d="M149.41 264 L157.33 264.7 L165.25 253.6 L173.17 253.1 L181.09 248.4 L189.01 250.1 L196.93 260.1 L204.85 237.9 L212.77 241.3 L220.69 252.3" fill="none" stroke="#2038e6" stroke-width="1.2" stroke-linejoin="round"/>
</g>
<circle cx="149.41" cy="264" r="2.35" fill="#2038e6" stroke="#2038e6" stroke-width="1.15"/>
<circle cx="157.33" cy="264.7" r="2.35" fill="#2038e6" stroke="#2038e6" stroke-width="1.15"/>
<circle cx="165.25" cy="253.6" r="2.35" fill="#2038e6" stroke="#2038e6" stroke-width="1.15"/>
<circle cx="173.17" cy="253.1" r="2.35" fill="#2038e6" stroke="#2038e6" stroke-width="1.15"/>
<circle cx="181.09" cy="248.4" r="2.35" fill="#2038e6" stroke="#2038e6" stroke-width="1.15"/>
<circle cx="189.01" cy="250.1" r="2.35" fill="#2038e6" stroke="#2038e6" stroke-width="1.15"/>
<circle cx="196.93" cy="260.1" r="2.35" fill="#2038e6" stroke="#2038e6" stroke-width="1.15"/>
<circle cx="204.85" cy="237.9" r="2.35" fill="#2038e6" stroke="#2038e6" stroke-width="1.15"/>
<circle cx="212.77" cy="241.3" r="2.35" fill="#2038e6" stroke="#2038e6" stroke-width="1.15"/>
<circle cx="220.69" cy="252.3" r="2.35" fill="#2038e6" stroke="#2038e6" stroke-width="1.15"/>
<path d="M149.41 275.5H220.69" stroke="#000" stroke-width="1.2" stroke-linecap="square"/>
<text x="185.05" y="232.6" font-size="10.1" text-anchor="middle" font-weight="bold" stroke="#000" stroke-width="0.25">sbj 14</text>
<path d="M261.7 236.4V314H341.7" fill="none" stroke="#262626" stroke-width="1"/>
<path d="M261.7 301.15h1M261.7 284.05h1M261.7 266.95h1M261.7 249.85h1M273.58 314v-1M289.42 314v-1M305.26 314v-1M321.1 314v-1M336.94 314v-1" fill="none" stroke="#262626" stroke-width="0.8"/>
<g clip-path="url(#c12)">
<path d="M265.66 275 L273.58 281.9 L281.5 278.1 L289.42 299.2 L297.34 278.1" fill="none" stroke="#dc64f0" stroke-width="1.0" stroke-dasharray="1.1 1.3"/>
</g>
<rect x="263.71" y="273.05" width="3.9" height="3.9" fill="none" stroke="#dc64f0" stroke-width="1.0"/>
<rect x="271.63" y="279.95" width="3.9" height="3.9" fill="none" stroke="#dc64f0" stroke-width="1.0"/>
<rect x="279.55" y="276.15" width="3.9" height="3.9" fill="none" stroke="#dc64f0" stroke-width="1.0"/>
<rect x="287.47" y="297.25" width="3.9" height="3.9" fill="none" stroke="#dc64f0" stroke-width="1.0"/>
<rect x="295.39" y="276.15" width="3.9" height="3.9" fill="none" stroke="#dc64f0" stroke-width="1.0"/>
<g clip-path="url(#c12)">
<path d="M265.66 279.6 L273.58 281.1 L281.5 291.3 L289.42 290 L297.34 293" fill="none" stroke="#2038e6" stroke-width="1.2" stroke-linejoin="round"/>
</g>
<circle cx="265.66" cy="279.6" r="2.35" fill="none" stroke="#2038e6" stroke-width="1.15"/>
<circle cx="273.58" cy="281.1" r="2.35" fill="none" stroke="#2038e6" stroke-width="1.15"/>
<circle cx="281.5" cy="291.3" r="2.35" fill="none" stroke="#2038e6" stroke-width="1.15"/>
<circle cx="289.42" cy="290" r="2.35" fill="none" stroke="#2038e6" stroke-width="1.15"/>
<circle cx="297.34" cy="293" r="2.35" fill="none" stroke="#2038e6" stroke-width="1.15"/>
<path d="M265.66 275.5H336.94" stroke="#000" stroke-width="1.2" stroke-linecap="square"/>
<text x="301.3" y="232.6" font-size="10.1" text-anchor="middle" font-weight="bold" stroke="#000" stroke-width="0.25">sbj 15</text>
<path d="M377.95 236.4V314H457.95" fill="none" stroke="#262626" stroke-width="1"/>
<path d="M377.95 301.15h1M377.95 284.05h1M377.95 266.95h1M377.95 249.85h1M389.83 314v-1M405.67 314v-1M421.51 314v-1M437.35 314v-1M453.19 314v-1" fill="none" stroke="#262626" stroke-width="0.8"/>
<g clip-path="url(#c13)">
<path d="M381.91 261.6 L389.83 259 L397.75 243.2 L405.67 237.3" fill="none" stroke="#dc64f0" stroke-width="1.0" stroke-dasharray="1.1 1.3"/>
</g>
<rect x="379.96" y="259.65" width="3.9" height="3.9" fill="#dc64f0" stroke="#dc64f0" stroke-width="1.0"/>
<rect x="387.88" y="257.05" width="3.9" height="3.9" fill="#dc64f0" stroke="#dc64f0" stroke-width="1.0"/>
<rect x="395.8" y="241.25" width="3.9" height="3.9" fill="#dc64f0" stroke="#dc64f0" stroke-width="1.0"/>
<rect x="403.72" y="235.35" width="3.9" height="3.9" fill="#dc64f0" stroke="#dc64f0" stroke-width="1.0"/>
<g clip-path="url(#c13)">
<path d="M381.91 254 L389.83 250.8 L397.75 246.6 L405.67 250.8" fill="none" stroke="#2038e6" stroke-width="1.2" stroke-linejoin="round"/>
</g>
<circle cx="381.91" cy="254" r="2.35" fill="#2038e6" stroke="#2038e6" stroke-width="1.15"/>
<circle cx="389.83" cy="250.8" r="2.35" fill="#2038e6" stroke="#2038e6" stroke-width="1.15"/>
<circle cx="397.75" cy="246.6" r="2.35" fill="#2038e6" stroke="#2038e6" stroke-width="1.15"/>
<circle cx="405.67" cy="250.8" r="2.35" fill="#2038e6" stroke="#2038e6" stroke-width="1.15"/>
<path d="M381.91 275.5H453.19" stroke="#000" stroke-width="1.2" stroke-linecap="square"/>
<text x="417.55" y="232.6" font-size="10.1" text-anchor="middle" font-weight="bold" stroke="#000" stroke-width="0.25">sbj 16</text>
<path d="M494.2 236.4V314H574.2" fill="none" stroke="#262626" stroke-width="1"/>
<path d="M494.2 301.15h1M494.2 284.05h1M494.2 266.95h1M494.2 249.85h1M506.08 314v-1M521.92 314v-1M537.76 314v-1M553.6 314v-1M569.44 314v-1" fill="none" stroke="#262626" stroke-width="0.8"/>
<g clip-path="url(#c14)">
<path d="M498.16 268.3 L506.08 282.1 L514 279.1 L521.92 279.1 L529.84 271.4 L537.76 261.2 L545.68 281.9 L553.6 276.3 L561.52 279" fill="none" stroke="#dc64f0" stroke-width="1.0" stroke-dasharray="1.1 1.3"/>
</g>
<rect x="496.21" y="266.35" width="3.9" height="3.9" fill="#dc64f0" stroke="#dc64f0" stroke-width="1.0"/>
<rect x="504.13" y="280.15" width="3.9" height="3.9" fill="none" stroke="#dc64f0" stroke-width="1.0"/>
<rect x="512.05" y="277.15" width="3.9" height="3.9" fill="none" stroke="#dc64f0" stroke-width="1.0"/>
<rect x="519.97" y="277.15" width="3.9" height="3.9" fill="none" stroke="#dc64f0" stroke-width="1.0"/>
<rect x="527.89" y="269.45" width="3.9" height="3.9" fill="none" stroke="#dc64f0" stroke-width="1.0"/>
<rect x="535.81" y="259.25" width="3.9" height="3.9" fill="#dc64f0" stroke="#dc64f0" stroke-width="1.0"/>
<rect x="543.73" y="279.95" width="3.9" height="3.9" fill="none" stroke="#dc64f0" stroke-width="1.0"/>
<rect x="551.65" y="274.35" width="3.9" height="3.9" fill="none" stroke="#dc64f0" stroke-width="1.0"/>
<rect x="559.57" y="277.05" width="3.9" height="3.9" fill="none" stroke="#dc64f0" stroke-width="1.0"/>
<g clip-path="url(#c14)">
<path d="M498.16 266.2 L506.08 272.7 L514 261.3 L521.92 266.9 L529.84 264.5 L537.76 252.8 L545.68 266.1 L553.6 258.7 L561.52 279.6" fill="none" stroke="#2038e6" stroke-width="1.2" stroke-linejoin="round"/>
</g>
<circle cx="498.16" cy="266.2" r="2.35" fill="#2038e6" stroke="#2038e6" stroke-width="1.15"/>
<circle cx="506.08" cy="272.7" r="2.35" fill="none" stroke="#2038e6" stroke-width="1.15"/>
<circle cx="514" cy="261.3" r="2.35" fill="#2038e6" stroke="#2038e6" stroke-width="1.15"/>
<circle cx="521.92" cy="266.9" r="2.35" fill="#2038e6" stroke="#2038e6" stroke-width="1.15"/>
<circle cx="529.84" cy="264.5" r="2.35" fill="#2038e6" stroke="#2038e6" stroke-width="1.15"/>
<circle cx="537.76" cy="252.8" r="2.35" fill="#2038e6" stroke="#2038e6" stroke-width="1.15"/>
<circle cx="545.68" cy="266.1" r="2.35" fill="none" stroke="#2038e6" stroke-width="1.15"/>
<circle cx="553.6" cy="258.7" r="2.35" fill="#2038e6" stroke="#2038e6" stroke-width="1.15"/>
<circle cx="561.52" cy="279.6" r="2.35" fill="none" stroke="#2038e6" stroke-width="1.15"/>
<path d="M498.16 275.5H569.44" stroke="#000" stroke-width="1.2" stroke-linecap="square"/>
<text x="533.8" y="232.6" font-size="10.1" text-anchor="middle" font-weight="bold" stroke="#000" stroke-width="0.25">sbj 17</text>
<path d="M29.2 348.9V426.5H109.2" fill="none" stroke="#262626" stroke-width="1"/>
<path d="M29.2 413.65h1M29.2 396.55h1M29.2 379.45h1M29.2 362.35h1M41.08 426.5v-1M56.92 426.5v-1M72.76 426.5v-1M88.6 426.5v-1M104.44 426.5v-1" fill="none" stroke="#262626" stroke-width="0.8"/>
<g clip-path="url(#c15)">
<path d="M33.16 394.4 L41.08 400.7" fill="none" stroke="#dc64f0" stroke-width="1.0" stroke-dasharray="1.1 1.3"/>
</g>
<rect x="31.21" y="392.45" width="3.9" height="3.9" fill="none" stroke="#dc64f0" stroke-width="1.0"/>
<rect x="39.13" y="398.75" width="3.9" height="3.9" fill="none" stroke="#dc64f0" stroke-width="1.0"/>
<g clip-path="url(#c15)">
<path d="M33.16 377.8 L41.08 388.7" fill="none" stroke="#2038e6" stroke-width="1.2" stroke-linejoin="round"/>
</g>
<circle cx="33.16" cy="377.8" r="2.35" fill="none" stroke="#2038e6" stroke-width="1.15"/>
<circle cx="41.08" cy="388.7" r="2.35" fill="none" stroke="#2038e6" stroke-width="1.15"/>
<path d="M33.16 388H104.44" stroke="#000" stroke-width="1.2" stroke-linecap="square"/>
<text x="68.8" y="345.1" font-size="10.1" text-anchor="middle" font-weight="bold" stroke="#000" stroke-width="0.25">sbj 18</text>
<text x="25.6" y="416.95" font-size="9.7" text-anchor="end" stroke="#000" stroke-width="0.3">0.2</text>
<text x="25.6" y="399.85" font-size="9.7" text-anchor="end" stroke="#000" stroke-width="0.3">0.4</text>
<text x="25.6" y="382.75" font-size="9.7" text-anchor="end" stroke="#000" stroke-width="0.3">0.6</text>
<text x="25.6" y="365.65" font-size="9.7" text-anchor="end" stroke="#000" stroke-width="0.3">0.8</text>
<path d="M145.45 348.9V426.5H225.45" fill="none" stroke="#262626" stroke-width="1"/>
<path d="M145.45 413.65h1M145.45 396.55h1M145.45 379.45h1M145.45 362.35h1M157.33 426.5v-1M173.17 426.5v-1M189.01 426.5v-1M204.85 426.5v-1M220.69 426.5v-1" fill="none" stroke="#262626" stroke-width="0.8"/>
<g clip-path="url(#c16)">
<path d="M149.41 383 L157.33 394.6 L165.25 376.5 L173.17 364.4" fill="none" stroke="#dc64f0" stroke-width="1.0" stroke-dasharray="1.1 1.3"/>
</g>
<rect x="147.46" y="381.05" width="3.9" height="3.9" fill="none" stroke="#dc64f0" stroke-width="1.0"/>
<rect x="155.38" y="392.65" width="3.9" height="3.9" fill="none" stroke="#dc64f0" stroke-width="1.0"/>
<rect x="163.3" y="374.55" width="3.9" height="3.9" fill="#dc64f0" stroke="#dc64f0" stroke-width="1.0"/>
<rect x="171.22" y="362.45" width="3.9" height="3.9" fill="#dc64f0" stroke="#dc64f0" stroke-width="1.0"/>
<g clip-path="url(#c16)">
<path d="M149.41 374.6 L157.33 351.8 L165.25 362.7 L173.17 365.8" fill="none" stroke="#2038e6" stroke-width="1.2" stroke-linejoin="round"/>
</g>
<circle cx="149.41" cy="374.6" r="2.35" fill="#2038e6" stroke="#2038e6" stroke-width="1.15"/>
<circle cx="157.33" cy="351.8" r="2.35" fill="#2038e6" stroke="#2038e6" stroke-width="1.15"/>
<circle cx="165.25" cy="362.7" r="2.35" fill="#2038e6" stroke="#2038e6" stroke-width="1.15"/>
<circle cx="173.17" cy="365.8" r="2.35" fill="#2038e6" stroke="#2038e6" stroke-width="1.15"/>
<path d="M149.41 388H220.69" stroke="#000" stroke-width="1.2" stroke-linecap="square"/>
<text x="185.05" y="345.1" font-size="10.1" text-anchor="middle" font-weight="bold" stroke="#000" stroke-width="0.25">sbj 19</text>
<path d="M261.7 348.9V426.5H341.7" fill="none" stroke="#262626" stroke-width="1"/>
<path d="M261.7 413.65h1M261.7 396.55h1M261.7 379.45h1M261.7 362.35h1M273.58 426.5v-1M289.42 426.5v-1M305.26 426.5v-1M321.1 426.5v-1M336.94 426.5v-1" fill="none" stroke="#262626" stroke-width="0.8"/>
<g clip-path="url(#c17)">
<path d="M265.66 391.3 L273.58 388.4 L281.5 386.4 L289.42 376.5 L297.34 392.4 L305.26 389.9" fill="none" stroke="#dc64f0" stroke-width="1.0" stroke-dasharray="1.1 1.3"/>
</g>
<rect x="263.71" y="389.35" width="3.9" height="3.9" fill="none" stroke="#dc64f0" stroke-width="1.0"/>
<rect x="271.63" y="386.45" width="3.9" height="3.9" fill="none" stroke="#dc64f0" stroke-width="1.0"/>
<rect x="279.55" y="384.45" width="3.9" height="3.9" fill="none" stroke="#dc64f0" stroke-width="1.0"/>
<rect x="287.47" y="374.55" width="3.9" height="3.9" fill="#dc64f0" stroke="#dc64f0" stroke-width="1.0"/>
<rect x="295.39" y="390.45" width="3.9" height="3.9" fill="none" stroke="#dc64f0" stroke-width="1.0"/>
<rect x="303.31" y="387.95" width="3.9" height="3.9" fill="none" stroke="#dc64f0" stroke-width="1.0"/>
<g clip-path="url(#c17)">
<path d="M265.66 395.4 L273.58 393 L281.5 403.9 L289.42 395.4 L297.34 397.6 L305.26 395.2" fill="none" stroke="#2038e6" stroke-width="1.2" stroke-linejoin="round"/>
</g>
<circle cx="265.66" cy="395.4" r="2.35" fill="none" stroke="#2038e6" stroke-width="1.15"/>
<circle cx="273.58" cy="393" r="2.35" fill="none" stroke="#2038e6" stroke-width="1.15"/>
<circle cx="281.5" cy="403.9" r="2.35" fill="none" stroke="#2038e6" stroke-width="1.15"/>
<circle cx="289.42" cy="395.4" r="2.35" fill="none" stroke="#2038e6" stroke-width="1.15"/>
<circle cx="297.34" cy="397.6" r="2.35" fill="none" stroke="#2038e6" stroke-width="1.15"/>
<circle cx="305.26" cy="395.2" r="2.35" fill="none" stroke="#2038e6" stroke-width="1.15"/>
<path d="M265.66 388H336.94" stroke="#000" stroke-width="1.2" stroke-linecap="square"/>
<text x="301.3" y="345.1" font-size="10.1" text-anchor="middle" font-weight="bold" stroke="#000" stroke-width="0.25">sbj 20</text>
<text x="41.08" y="439.8" font-size="9.7" text-anchor="middle" stroke="#000" stroke-width="0.3">2</text>
<text x="56.92" y="439.8" font-size="9.7" text-anchor="middle" stroke="#000" stroke-width="0.3">4</text>
<text x="72.76" y="439.8" font-size="9.7" text-anchor="middle" stroke="#000" stroke-width="0.3">6</text>
<text x="88.6" y="439.8" font-size="9.7" text-anchor="middle" stroke="#000" stroke-width="0.3">8</text>
<text x="104.44" y="439.8" font-size="9.7" text-anchor="middle" stroke="#000" stroke-width="0.3">10</text>
<text x="68.8" y="454" font-size="10.3" text-anchor="middle" stroke="#000" stroke-width="0.3">window length</text>
<text x="389.83" y="439.8" font-size="9.7" text-anchor="middle" stroke="#000" stroke-width="0.3">2</text>
<text x="405.67" y="439.8" font-size="9.7" text-anchor="middle" stroke="#000" stroke-width="0.3">4</text>
<text x="421.51" y="439.8" font-size="9.7" text-anchor="middle" stroke="#000" stroke-width="0.3">6</text>
<text x="437.35" y="439.8" font-size="9.7" text-anchor="middle" stroke="#000" stroke-width="0.3">8</text>
<text x="453.19" y="439.8" font-size="9.7" text-anchor="middle" stroke="#000" stroke-width="0.3">10</text>
<text x="417.55" y="454" font-size="10.3" text-anchor="middle" stroke="#000" stroke-width="0.3">window length</text>
<text x="506.08" y="439.8" font-size="9.7" text-anchor="middle" stroke="#000" stroke-width="0.3">2</text>
<text x="521.92" y="439.8" font-size="9.7" text-anchor="middle" stroke="#000" stroke-width="0.3">4</text>
<text x="537.76" y="439.8" font-size="9.7" text-anchor="middle" stroke="#000" stroke-width="0.3">6</text>
<text x="553.6" y="439.8" font-size="9.7" text-anchor="middle" stroke="#000" stroke-width="0.3">8</text>
<text x="569.44" y="439.8" font-size="9.7" text-anchor="middle" stroke="#000" stroke-width="0.3">10</text>
<text x="533.8" y="454" font-size="10.3" text-anchor="middle" stroke="#000" stroke-width="0.3">window length</text>
<text x="7.6" y="388" font-size="10.3" text-anchor="middle" transform="rotate(-90 7.6 388)" stroke="#000" stroke-width="0.3">ROC AUC</text>
<text x="356" y="388" font-size="10.3" text-anchor="middle" transform="rotate(-90 356 388)" stroke="#000" stroke-width="0.3">ROC AUC</text>
<path d="M377.95 348.9V426.5H457.95" fill="none" stroke="#262626" stroke-width="1"/>
<path d="M377.95 426.5h1M377.95 409.6h1M377.95 392.7h1M377.95 375.8h1M377.95 358.9h1M389.83 426.5v-1M405.67 426.5v-1M421.51 426.5v-1M437.35 426.5v-1M453.19 426.5v-1" fill="none" stroke="#262626" stroke-width="0.8"/>
<text x="374.55" y="429.8" font-size="9.7" text-anchor="end" stroke="#000" stroke-width="0.3">0.5</text>
<text x="374.55" y="412.9" font-size="9.7" text-anchor="end" stroke="#000" stroke-width="0.3">0.6</text>
<text x="374.55" y="396" font-size="9.7" text-anchor="end" stroke="#000" stroke-width="0.3">0.7</text>
<text x="374.55" y="379.1" font-size="9.7" text-anchor="end" stroke="#000" stroke-width="0.3">0.8</text>
<text x="374.55" y="362.2" font-size="9.7" text-anchor="end" stroke="#000" stroke-width="0.3">0.9</text>
<text x="416.3" y="345.1" font-size="10.1" text-anchor="middle" font-weight="bold" stroke="#000" stroke-width="0.25" textLength="104.6" lengthAdjust="spacingAndGlyphs">Group median &#177; MAD</text>
<g clip-path="url(#cg)">
<path d="M380.71 403.8V424.2M388.63 403.8V427.8M396.55 392.3V425.1M404.47 396.2V423.6M412.39 393.5V414.5M420.31 394.1V421.9M428.23 378.8V425.4M436.15 382V402.6M444.07 370.8V419.2M451.99 367.2V400.8" stroke="#2038e6" stroke-width="1"/>
<path d="M383.11 400.9V423.3M391.03 396.1V431.5M398.95 386.7V418.3M406.87 380.4V406.4M414.79 382.2V408.4M422.71 383.2V410.8M430.63 363.8V405.2M438.55 370.6V399.8M446.47 352.3V417.9M454.39 365.6V383" stroke="#dc64f0" stroke-width="1"/>
<path d="M383.11 412.1 L391.03 413.8 L398.95 402.5 L406.87 393.4 L414.79 395.3 L422.71 397 L430.63 384.5 L438.55 385.2 L446.47 385.1 L454.39 374.3" fill="none" stroke="#dc64f0" stroke-width="1.0" stroke-dasharray="1.1 1.3"/>
<rect x="381.16" y="410.15" width="3.9" height="3.9" fill="none" stroke="#dc64f0" stroke-width="1.0"/>
<rect x="389.08" y="411.85" width="3.9" height="3.9" fill="none" stroke="#dc64f0" stroke-width="1.0"/>
<rect x="397" y="400.55" width="3.9" height="3.9" fill="none" stroke="#dc64f0" stroke-width="1.0"/>
<rect x="404.92" y="391.45" width="3.9" height="3.9" fill="none" stroke="#dc64f0" stroke-width="1.0"/>
<rect x="412.84" y="393.35" width="3.9" height="3.9" fill="none" stroke="#dc64f0" stroke-width="1.0"/>
<rect x="420.76" y="395.05" width="3.9" height="3.9" fill="none" stroke="#dc64f0" stroke-width="1.0"/>
<rect x="428.68" y="382.55" width="3.9" height="3.9" fill="none" stroke="#dc64f0" stroke-width="1.0"/>
<rect x="436.6" y="383.25" width="3.9" height="3.9" fill="none" stroke="#dc64f0" stroke-width="1.0"/>
<rect x="444.52" y="383.15" width="3.9" height="3.9" fill="none" stroke="#dc64f0" stroke-width="1.0"/>
<rect x="452.44" y="372.35" width="3.9" height="3.9" fill="none" stroke="#dc64f0" stroke-width="1.0"/>
<path d="M380.71 414 L388.63 415.8 L396.55 408.7 L404.47 409.9 L412.39 404 L420.31 408 L428.23 402.1 L436.15 392.3 L444.07 395 L451.99 384" fill="none" stroke="#2038e6" stroke-width="1.2" stroke-linejoin="round"/>
<circle cx="380.71" cy="414" r="2.35" fill="none" stroke="#2038e6" stroke-width="1.15"/>
<circle cx="388.63" cy="415.8" r="2.35" fill="none" stroke="#2038e6" stroke-width="1.15"/>
<circle cx="396.55" cy="408.7" r="2.35" fill="none" stroke="#2038e6" stroke-width="1.15"/>
<circle cx="404.47" cy="409.9" r="2.35" fill="none" stroke="#2038e6" stroke-width="1.15"/>
<circle cx="412.39" cy="404" r="2.35" fill="none" stroke="#2038e6" stroke-width="1.15"/>
<circle cx="420.31" cy="408" r="2.35" fill="none" stroke="#2038e6" stroke-width="1.15"/>
<circle cx="428.23" cy="402.1" r="2.35" fill="none" stroke="#2038e6" stroke-width="1.15"/>
<circle cx="436.15" cy="392.3" r="2.35" fill="none" stroke="#2038e6" stroke-width="1.15"/>
<circle cx="444.07" cy="395" r="2.35" fill="none" stroke="#2038e6" stroke-width="1.15"/>
<circle cx="451.99" cy="384" r="2.35" fill="none" stroke="#2038e6" stroke-width="1.15"/>
</g>
<path d="M494.2 348.9V426.5H574.2" fill="none" stroke="#262626" stroke-width="1"/>
<path d="M494.2 426.5h1M494.2 405.15h1M494.2 383.8h1M494.2 362.45h1M506.08 426.5v-1M521.92 426.5v-1M537.76 426.5v-1M553.6 426.5v-1M569.44 426.5v-1" fill="none" stroke="#262626" stroke-width="0.8"/>
<text x="490.4" y="429.8" font-size="9.7" text-anchor="end" stroke="#000" stroke-width="0.3">0</text>
<text x="490.4" y="408.45" font-size="9.7" text-anchor="end" stroke="#000" stroke-width="0.3">5</text>
<text x="490.4" y="387.1" font-size="9.7" text-anchor="end" stroke="#000" stroke-width="0.3">10</text>
<text x="490.4" y="365.75" font-size="9.7" text-anchor="end" stroke="#000" stroke-width="0.3">15</text>
<text x="533.8" y="345.1" font-size="10.1" text-anchor="middle" font-weight="bold" stroke="#000" stroke-width="0.25">N of p&lt;0.05</text>
<rect x="496.11" y="421.33" width="1.8" height="1.8" fill="#2038e6"/>
<rect x="496.11" y="417.06" width="1.8" height="1.8" fill="#2038e6"/>
<rect x="496.11" y="412.79" width="1.8" height="1.8" fill="#2038e6"/>
<rect x="496.11" y="408.52" width="1.8" height="1.8" fill="#2038e6"/>
<rect x="496.11" y="404.25" width="1.8" height="1.8" fill="#2038e6"/>
<rect x="496.11" y="399.98" width="1.8" height="1.8" fill="#2038e6"/>
<rect x="496.11" y="395.71" width="1.8" height="1.8" fill="#2038e6"/>
<rect x="496.11" y="391.44" width="1.8" height="1.8" fill="#2038e6"/>
<rect x="504.03" y="421.33" width="1.8" height="1.8" fill="#2038e6"/>
<rect x="504.03" y="417.06" width="1.8" height="1.8" fill="#2038e6"/>
<rect x="504.03" y="412.79" width="1.8" height="1.8" fill="#2038e6"/>
<rect x="504.03" y="408.52" width="1.8" height="1.8" fill="#2038e6"/>
<rect x="504.03" y="404.25" width="1.8" height="1.8" fill="#2038e6"/>
<rect x="504.03" y="399.98" width="1.8" height="1.8" fill="#2038e6"/>
<rect x="504.03" y="395.71" width="1.8" height="1.8" fill="#2038e6"/>
<rect x="504.03" y="391.44" width="1.8" height="1.8" fill="#2038e6"/>
<rect x="504.03" y="387.17" width="1.8" height="1.8" fill="#2038e6"/>
<rect x="511.95" y="421.33" width="1.8" height="1.8" fill="#2038e6"/>
<rect x="511.95" y="417.06" width="1.8" height="1.8" fill="#2038e6"/>
<rect x="511.95" y="412.79" width="1.8" height="1.8" fill="#2038e6"/>
<rect x="511.95" y="408.52" width="1.8" height="1.8" fill="#2038e6"/>
<rect x="511.95" y="404.25" width="1.8" height="1.8" fill="#2038e6"/>
<rect x="511.95" y="399.98" width="1.8" height="1.8" fill="#2038e6"/>
<rect x="511.95" y="395.71" width="1.8" height="1.8" fill="#2038e6"/>
<rect x="511.95" y="391.44" width="1.8" height="1.8" fill="#2038e6"/>
<rect x="511.95" y="387.17" width="1.8" height="1.8" fill="#2038e6"/>
<rect x="511.95" y="382.9" width="1.8" height="1.8" fill="#2038e6"/>
<rect x="511.95" y="378.63" width="1.8" height="1.8" fill="#2038e6"/>
<rect x="519.87" y="421.33" width="1.8" height="1.8" fill="#2038e6"/>
<rect x="519.87" y="417.06" width="1.8" height="1.8" fill="#2038e6"/>
<rect x="519.87" y="412.79" width="1.8" height="1.8" fill="#2038e6"/>
<rect x="519.87" y="408.52" width="1.8" height="1.8" fill="#2038e6"/>
<rect x="519.87" y="404.25" width="1.8" height="1.8" fill="#2038e6"/>
<rect x="519.87" y="399.98" width="1.8" height="1.8" fill="#2038e6"/>
<rect x="519.87" y="395.71" width="1.8" height="1.8" fill="#2038e6"/>
<rect x="519.87" y="391.44" width="1.8" height="1.8" fill="#2038e6"/>
<rect x="519.87" y="387.17" width="1.8" height="1.8" fill="#2038e6"/>
<rect x="519.87" y="382.9" width="1.8" height="1.8" fill="#2038e6"/>
<rect x="519.87" y="378.63" width="1.8" height="1.8" fill="#2038e6"/>
<rect x="527.79" y="421.33" width="1.8" height="1.8" fill="#2038e6"/>
<rect x="527.79" y="417.06" width="1.8" height="1.8" fill="#2038e6"/>
<rect x="527.79" y="412.79" width="1.8" height="1.8" fill="#2038e6"/>
<rect x="527.79" y="408.52" width="1.8" height="1.8" fill="#2038e6"/>
<rect x="527.79" y="404.25" width="1.8" height="1.8" fill="#2038e6"/>
<rect x="527.79" y="399.98" width="1.8" height="1.8" fill="#2038e6"/>
<rect x="527.79" y="395.71" width="1.8" height="1.8" fill="#2038e6"/>
<rect x="527.79" y="391.44" width="1.8" height="1.8" fill="#2038e6"/>
<rect x="527.79" y="387.17" width="1.8" height="1.8" fill="#2038e6"/>
<rect x="535.71" y="421.33" width="1.8" height="1.8" fill="#2038e6"/>
<rect x="535.71" y="417.06" width="1.8" height="1.8" fill="#2038e6"/>
<rect x="535.71" y="412.79" width="1.8" height="1.8" fill="#2038e6"/>
<rect x="535.71" y="408.52" width="1.8" height="1.8" fill="#2038e6"/>
<rect x="535.71" y="404.25" width="1.8" height="1.8" fill="#2038e6"/>
<rect x="535.71" y="399.98" width="1.8" height="1.8" fill="#2038e6"/>
<rect x="535.71" y="395.71" width="1.8" height="1.8" fill="#2038e6"/>
<rect x="535.71" y="391.44" width="1.8" height="1.8" fill="#2038e6"/>
<rect x="543.63" y="421.33" width="1.8" height="1.8" fill="#2038e6"/>
<rect x="543.63" y="417.06" width="1.8" height="1.8" fill="#2038e6"/>
<rect x="543.63" y="412.79" width="1.8" height="1.8" fill="#2038e6"/>
<rect x="543.63" y="408.52" width="1.8" height="1.8" fill="#2038e6"/>
<rect x="543.63" y="404.25" width="1.8" height="1.8" fill="#2038e6"/>
<rect x="543.63" y="399.98" width="1.8" height="1.8" fill="#2038e6"/>
<rect x="551.55" y="421.33" width="1.8" height="1.8" fill="#2038e6"/>
<rect x="551.55" y="417.06" width="1.8" height="1.8" fill="#2038e6"/>
<rect x="551.55" y="412.79" width="1.8" height="1.8" fill="#2038e6"/>
<rect x="551.55" y="408.52" width="1.8" height="1.8" fill="#2038e6"/>
<rect x="551.55" y="404.25" width="1.8" height="1.8" fill="#2038e6"/>
<rect x="551.55" y="399.98" width="1.8" height="1.8" fill="#2038e6"/>
<rect x="551.55" y="395.71" width="1.8" height="1.8" fill="#2038e6"/>
<rect x="551.55" y="391.44" width="1.8" height="1.8" fill="#2038e6"/>
<rect x="551.55" y="387.17" width="1.8" height="1.8" fill="#2038e6"/>
<rect x="559.47" y="421.33" width="1.8" height="1.8" fill="#2038e6"/>
<rect x="559.47" y="417.06" width="1.8" height="1.8" fill="#2038e6"/>
<rect x="559.47" y="412.79" width="1.8" height="1.8" fill="#2038e6"/>
<rect x="559.47" y="408.52" width="1.8" height="1.8" fill="#2038e6"/>
<rect x="559.47" y="404.25" width="1.8" height="1.8" fill="#2038e6"/>
<rect x="559.47" y="399.98" width="1.8" height="1.8" fill="#2038e6"/>
<rect x="567.39" y="421.33" width="1.8" height="1.8" fill="#2038e6"/>
<rect x="567.39" y="417.06" width="1.8" height="1.8" fill="#2038e6"/>
<rect x="567.39" y="412.79" width="1.8" height="1.8" fill="#2038e6"/>
<rect x="567.39" y="408.52" width="1.8" height="1.8" fill="#2038e6"/>
<rect x="567.39" y="404.25" width="1.8" height="1.8" fill="#2038e6"/>
<rect x="567.39" y="399.98" width="1.8" height="1.8" fill="#2038e6"/>
<rect x="567.39" y="395.71" width="1.8" height="1.8" fill="#2038e6"/>
<rect x="567.39" y="391.44" width="1.8" height="1.8" fill="#2038e6"/>
<rect x="498.51" y="421.43" width="1.6" height="1.6" fill="#dc64f0"/>
<rect x="498.51" y="417.16" width="1.6" height="1.6" fill="#dc64f0"/>
<rect x="498.51" y="412.89" width="1.6" height="1.6" fill="#dc64f0"/>
<rect x="498.51" y="408.62" width="1.6" height="1.6" fill="#dc64f0"/>
<rect x="498.51" y="404.35" width="1.6" height="1.6" fill="#dc64f0"/>
<rect x="498.51" y="400.08" width="1.6" height="1.6" fill="#dc64f0"/>
<rect x="498.51" y="395.81" width="1.6" height="1.6" fill="#dc64f0"/>
<rect x="498.51" y="391.54" width="1.6" height="1.6" fill="#dc64f0"/>
<rect x="498.51" y="387.27" width="1.6" height="1.6" fill="#dc64f0"/>
<rect x="498.51" y="383" width="1.6" height="1.6" fill="#dc64f0"/>
<rect x="498.51" y="378.73" width="1.6" height="1.6" fill="#dc64f0"/>
<rect x="506.43" y="421.43" width="1.6" height="1.6" fill="#dc64f0"/>
<rect x="506.43" y="417.16" width="1.6" height="1.6" fill="#dc64f0"/>
<rect x="506.43" y="412.89" width="1.6" height="1.6" fill="#dc64f0"/>
<rect x="506.43" y="408.62" width="1.6" height="1.6" fill="#dc64f0"/>
<rect x="506.43" y="404.35" width="1.6" height="1.6" fill="#dc64f0"/>
<rect x="506.43" y="400.08" width="1.6" height="1.6" fill="#dc64f0"/>
<rect x="506.43" y="395.81" width="1.6" height="1.6" fill="#dc64f0"/>
<rect x="506.43" y="391.54" width="1.6" height="1.6" fill="#dc64f0"/>
<rect x="506.43" y="387.27" width="1.6" height="1.6" fill="#dc64f0"/>
<rect x="506.43" y="383" width="1.6" height="1.6" fill="#dc64f0"/>
<rect x="514.35" y="421.43" width="1.6" height="1.6" fill="#dc64f0"/>
<rect x="514.35" y="417.16" width="1.6" height="1.6" fill="#dc64f0"/>
<rect x="514.35" y="412.89" width="1.6" height="1.6" fill="#dc64f0"/>
<rect x="514.35" y="408.62" width="1.6" height="1.6" fill="#dc64f0"/>
<rect x="514.35" y="404.35" width="1.6" height="1.6" fill="#dc64f0"/>
<rect x="514.35" y="400.08" width="1.6" height="1.6" fill="#dc64f0"/>
<rect x="514.35" y="395.81" width="1.6" height="1.6" fill="#dc64f0"/>
<rect x="514.35" y="391.54" width="1.6" height="1.6" fill="#dc64f0"/>
<rect x="514.35" y="387.27" width="1.6" height="1.6" fill="#dc64f0"/>
<rect x="514.35" y="383" width="1.6" height="1.6" fill="#dc64f0"/>
<rect x="514.35" y="378.73" width="1.6" height="1.6" fill="#dc64f0"/>
<rect x="514.35" y="374.46" width="1.6" height="1.6" fill="#dc64f0"/>
<rect x="522.27" y="421.43" width="1.6" height="1.6" fill="#dc64f0"/>
<rect x="522.27" y="417.16" width="1.6" height="1.6" fill="#dc64f0"/>
<rect x="522.27" y="412.89" width="1.6" height="1.6" fill="#dc64f0"/>
<rect x="522.27" y="408.62" width="1.6" height="1.6" fill="#dc64f0"/>
<rect x="522.27" y="404.35" width="1.6" height="1.6" fill="#dc64f0"/>
<rect x="522.27" y="400.08" width="1.6" height="1.6" fill="#dc64f0"/>
<rect x="522.27" y="395.81" width="1.6" height="1.6" fill="#dc64f0"/>
<rect x="522.27" y="391.54" width="1.6" height="1.6" fill="#dc64f0"/>
<rect x="522.27" y="387.27" width="1.6" height="1.6" fill="#dc64f0"/>
<rect x="522.27" y="383" width="1.6" height="1.6" fill="#dc64f0"/>
<rect x="522.27" y="378.73" width="1.6" height="1.6" fill="#dc64f0"/>
<rect x="522.27" y="374.46" width="1.6" height="1.6" fill="#dc64f0"/>
<rect x="522.27" y="370.19" width="1.6" height="1.6" fill="#dc64f0"/>
<rect x="530.19" y="421.43" width="1.6" height="1.6" fill="#dc64f0"/>
<rect x="530.19" y="417.16" width="1.6" height="1.6" fill="#dc64f0"/>
<rect x="530.19" y="412.89" width="1.6" height="1.6" fill="#dc64f0"/>
<rect x="530.19" y="408.62" width="1.6" height="1.6" fill="#dc64f0"/>
<rect x="530.19" y="404.35" width="1.6" height="1.6" fill="#dc64f0"/>
<rect x="530.19" y="400.08" width="1.6" height="1.6" fill="#dc64f0"/>
<rect x="530.19" y="395.81" width="1.6" height="1.6" fill="#dc64f0"/>
<rect x="530.19" y="391.54" width="1.6" height="1.6" fill="#dc64f0"/>
<rect x="530.19" y="387.27" width="1.6" height="1.6" fill="#dc64f0"/>
<rect x="530.19" y="383" width="1.6" height="1.6" fill="#dc64f0"/>
<rect x="538.11" y="421.43" width="1.6" height="1.6" fill="#dc64f0"/>
<rect x="538.11" y="417.16" width="1.6" height="1.6" fill="#dc64f0"/>
<rect x="538.11" y="412.89" width="1.6" height="1.6" fill="#dc64f0"/>
<rect x="538.11" y="408.62" width="1.6" height="1.6" fill="#dc64f0"/>
<rect x="538.11" y="404.35" width="1.6" height="1.6" fill="#dc64f0"/>
<rect x="538.11" y="400.08" width="1.6" height="1.6" fill="#dc64f0"/>
<rect x="538.11" y="395.81" width="1.6" height="1.6" fill="#dc64f0"/>
<rect x="538.11" y="391.54" width="1.6" height="1.6" fill="#dc64f0"/>
<rect x="538.11" y="387.27" width="1.6" height="1.6" fill="#dc64f0"/>
<rect x="538.11" y="383" width="1.6" height="1.6" fill="#dc64f0"/>
<rect x="538.11" y="378.73" width="1.6" height="1.6" fill="#dc64f0"/>
<rect x="538.11" y="374.46" width="1.6" height="1.6" fill="#dc64f0"/>
<rect x="546.03" y="421.43" width="1.6" height="1.6" fill="#dc64f0"/>
<rect x="546.03" y="417.16" width="1.6" height="1.6" fill="#dc64f0"/>
<rect x="546.03" y="412.89" width="1.6" height="1.6" fill="#dc64f0"/>
<rect x="546.03" y="408.62" width="1.6" height="1.6" fill="#dc64f0"/>
<rect x="546.03" y="404.35" width="1.6" height="1.6" fill="#dc64f0"/>
<rect x="546.03" y="400.08" width="1.6" height="1.6" fill="#dc64f0"/>
<rect x="546.03" y="395.81" width="1.6" height="1.6" fill="#dc64f0"/>
<rect x="546.03" y="391.54" width="1.6" height="1.6" fill="#dc64f0"/>
<rect x="546.03" y="387.27" width="1.6" height="1.6" fill="#dc64f0"/>
<rect x="546.03" y="383" width="1.6" height="1.6" fill="#dc64f0"/>
<rect x="546.03" y="378.73" width="1.6" height="1.6" fill="#dc64f0"/>
<rect x="553.95" y="421.43" width="1.6" height="1.6" fill="#dc64f0"/>
<rect x="553.95" y="417.16" width="1.6" height="1.6" fill="#dc64f0"/>
<rect x="553.95" y="412.89" width="1.6" height="1.6" fill="#dc64f0"/>
<rect x="553.95" y="408.62" width="1.6" height="1.6" fill="#dc64f0"/>
<rect x="553.95" y="404.35" width="1.6" height="1.6" fill="#dc64f0"/>
<rect x="553.95" y="400.08" width="1.6" height="1.6" fill="#dc64f0"/>
<rect x="553.95" y="395.81" width="1.6" height="1.6" fill="#dc64f0"/>
<rect x="553.95" y="391.54" width="1.6" height="1.6" fill="#dc64f0"/>
<rect x="553.95" y="387.27" width="1.6" height="1.6" fill="#dc64f0"/>
<rect x="553.95" y="383" width="1.6" height="1.6" fill="#dc64f0"/>
<rect x="553.95" y="378.73" width="1.6" height="1.6" fill="#dc64f0"/>
<rect x="561.87" y="421.43" width="1.6" height="1.6" fill="#dc64f0"/>
<rect x="561.87" y="417.16" width="1.6" height="1.6" fill="#dc64f0"/>
<rect x="561.87" y="412.89" width="1.6" height="1.6" fill="#dc64f0"/>
<rect x="561.87" y="408.62" width="1.6" height="1.6" fill="#dc64f0"/>
<rect x="561.87" y="404.35" width="1.6" height="1.6" fill="#dc64f0"/>
<rect x="561.87" y="400.08" width="1.6" height="1.6" fill="#dc64f0"/>
<rect x="561.87" y="395.81" width="1.6" height="1.6" fill="#dc64f0"/>
<rect x="561.87" y="391.54" width="1.6" height="1.6" fill="#dc64f0"/>
<rect x="569.79" y="421.43" width="1.6" height="1.6" fill="#dc64f0"/>
<rect x="569.79" y="417.16" width="1.6" height="1.6" fill="#dc64f0"/>
<rect x="569.79" y="412.89" width="1.6" height="1.6" fill="#dc64f0"/>
<rect x="569.79" y="408.62" width="1.6" height="1.6" fill="#dc64f0"/>
<rect x="569.79" y="404.35" width="1.6" height="1.6" fill="#dc64f0"/>
<rect x="569.79" y="400.08" width="1.6" height="1.6" fill="#dc64f0"/>
<rect x="569.79" y="395.81" width="1.6" height="1.6" fill="#dc64f0"/>
<rect x="569.79" y="391.54" width="1.6" height="1.6" fill="#dc64f0"/>
<rect x="569.79" y="387.27" width="1.6" height="1.6" fill="#dc64f0"/>
<rect x="569.79" y="383" width="1.6" height="1.6" fill="#dc64f0"/>
</svg>
</body></html>
